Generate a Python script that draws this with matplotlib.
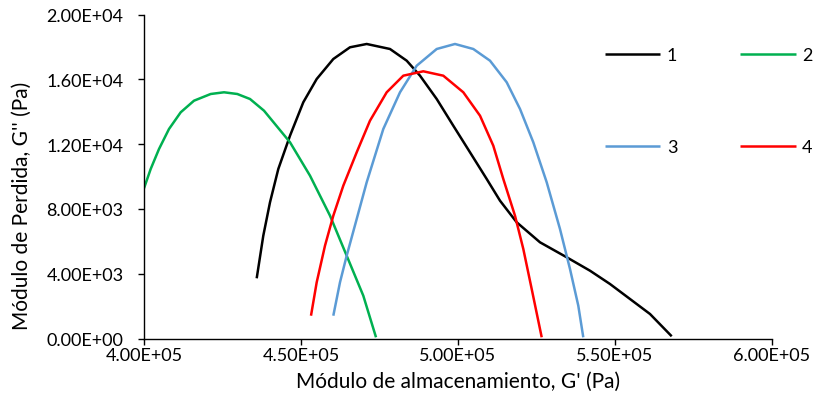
import matplotlib
matplotlib.use("Agg")
import matplotlib.pyplot as plt
from matplotlib.ticker import FuncFormatter, MultipleLocator

plt.rcParams['font.family'] = ['Lato', 'DejaVu Sans']

# Storage modulus G' (Pa) vs loss modulus G'' (Pa) for each sample
g1_x = [435890, 437990, 440130, 442770, 446500, 450730, 455000, 460290, 465600,
        470920, 478340, 483660, 487900, 493220, 498500, 503820, 509140, 513380,
        518690, 526110, 534620, 542040, 548410, 554780, 561150, 568060]
g1_y = [3716, 6346, 8408, 10463, 12519, 14581, 16019, 17253, 17976,
        18180, 17871, 17149, 16223, 14784, 13136, 11494, 9846, 8506,
        7173, 5938, 5013, 4185, 3364, 2438, 1512, 136]

g2_x = [400000, 402130, 404780, 407960, 411690, 415920, 421240, 425480, 429710,
        433760, 438220, 446500, 452870, 459240, 464550, 469840, 473890]
g2_y = [9272, 10463, 11698, 12932, 13963, 14679, 15093, 15198, 15093,
        14784, 14062, 12112, 10050, 7581, 5111, 2642, 74]

g3_x = [460290, 462420, 464550, 467740, 470920, 476210, 481530, 486850, 493220,
        499040, 504870, 510190, 515510, 519750, 523980, 528250, 532480, 535670,
        538310, 539900]
g3_y = [1407, 3469, 5111, 7377, 9642, 12932, 15198, 16840, 17871,
        18180, 17871, 17149, 15815, 14167, 12112, 9642, 6759, 4290,
        2025, 74]

g4_x = [453180, 455000, 457640, 460290, 463470, 467740, 471970, 477290, 482580,
        488950, 495320, 501690, 507010, 511240, 514430, 518150, 520800, 523470,
        526660]
g4_y = [1407, 3469, 5729, 7581, 9432, 11494, 13445, 15198, 16223,
        16494, 16223, 15198, 13753, 11901, 9846, 7581, 5525, 3056,
        74]

series_names = ["1", "2", "3", "4"]
series_colors = ["#000000", "#00B050", "#5B9BD5", "#FF0000"]

fig = plt.figure(figsize=(8.13, 4.06), dpi=100)
ax = fig.add_axes([144 / 813, 1 - 339.5 / 406, 628 / 813, 324 / 406])

lines = {}
for xs, ys, name, col in zip([g1_x, g2_x, g3_x, g4_x], [g1_y, g2_y, g3_y, g4_y],
                             series_names, series_colors):
    lines[name], = ax.plot(xs, ys, color=col, lw=1.8, label=name,
                           solid_capstyle='butt', solid_joinstyle='round')

ax.set_xlim(400000, 600000)
ax.set_ylim(0, 20000)
ax.xaxis.set_major_locator(MultipleLocator(50000))
ax.yaxis.set_major_locator(MultipleLocator(4000))
sci = FuncFormatter(lambda v, p: f"{v:.2E}")
ax.xaxis.set_major_formatter(sci)
ax.yaxis.set_major_formatter(sci)

for s in ("top", "right"):
    ax.spines[s].set_visible(False)
for s in ("left", "bottom"):
    ax.spines[s].set_color("#000000")
    ax.spines[s].set_linewidth(1.0)
ax.tick_params(direction="out", length=4.3, width=1.0, color="#000000",
               labelsize=13, labelcolor="#000000")
ax.tick_params(axis="x", pad=1.5)
ax.tick_params(axis="y", pad=10.5)

ax.set_xlabel("Módulo de almacenamiento, G' (Pa)", fontsize=15, labelpad=6)
ax.set_ylabel("Módulo de Perdida, G'' (Pa)", fontsize=15)
ax.yaxis.set_label_coords(-0.178, 0.413)

# two columns, filled row by row: 1 2 / 3 4
order = ["1", "3", "2", "4"]
ax.legend([lines[k] for k in order], order, loc="upper left",
          bbox_to_anchor=(605 / 813, 1 - 48 / 406),
          bbox_transform=fig.transFigure, ncol=2, frameon=False,
          fontsize=13, handlelength=3.05, handletextpad=0.37,
          columnspacing=3.5, labelspacing=4.2, borderpad=0, borderaxespad=0)

fig.savefig("out.png", dpi=100)
